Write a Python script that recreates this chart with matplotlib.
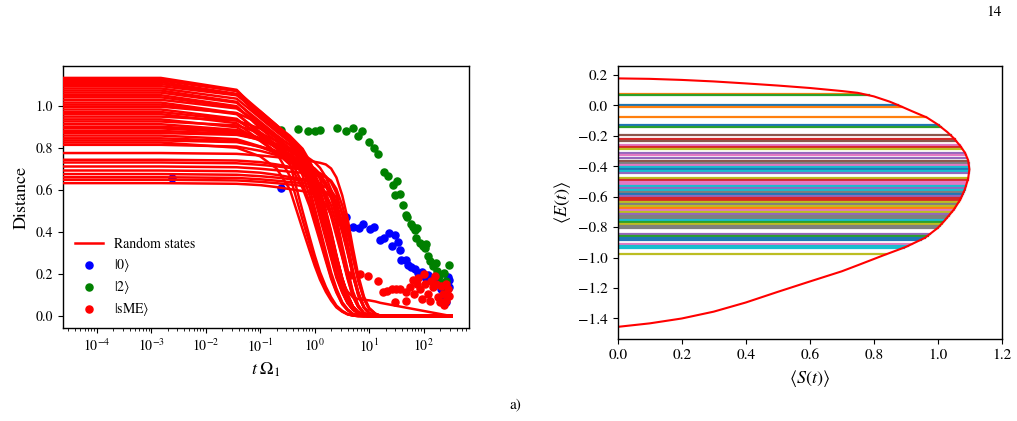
import matplotlib
matplotlib.use("Agg")
import matplotlib.pyplot as plt
from matplotlib.ticker import MultipleLocator
import numpy as np

plt.rcParams['font.family'] = 'STIXGeneral'
plt.rcParams['mathtext.fontset'] = 'stix'
plt.rcParams['axes.linewidth'] = 1.0

# ---- left panel: distance vs time ----
# shared time grid of the random-state curves (first point stands in for t = 0)
t_grid = [1e-6, 1.5e-3, 0.037, 0.1, 0.2, 0.35, 0.6, 0.8, 1.0, 1.25, 1.6, 2.0, 2.5,
          3.2, 4.0, 5.0, 6.3, 8.0, 10.0, 13.0, 16.0, 320.0]

# decay profiles (fraction of the plateau) at t = 0.037 ... 16
shapes = {
    'L1': [0.995, 0.985, 0.975, 0.965, 0.955, 0.948, 0.94, 0.93, 0.91, 0.87, 0.8, 0.66, 0.48, 0.3, 0.15, 0.06, 0.02, 0.003, 0.0],
    'L2': [0.995, 0.985, 0.975, 0.965, 0.958, 0.952, 0.946, 0.94, 0.93, 0.905, 0.85, 0.74, 0.6, 0.42, 0.25, 0.12, 0.05, 0.015, 0.003],
    'L3': [0.995, 0.985, 0.97, 0.955, 0.94, 0.93, 0.915, 0.89, 0.84, 0.76, 0.63, 0.45, 0.3, 0.16, 0.07, 0.02, 0.005, 0.0, 0.0],
    'U1': [0.95, 0.85, 0.79, 0.745, 0.68, 0.62, 0.55, 0.46, 0.36, 0.27, 0.18, 0.11, 0.06, 0.03, 0.012, 0.003, 0.0, 0.0, 0.0],
    'U2': [0.97, 0.92, 0.85, 0.73, 0.5, 0.38, 0.29, 0.21, 0.14, 0.09, 0.05, 0.025, 0.01, 0.003, 0.0, 0.0, 0.0, 0.0, 0.0],
    'U3': [0.98, 0.94, 0.9, 0.86, 0.81, 0.76, 0.7, 0.62, 0.52, 0.41, 0.3, 0.19, 0.11, 0.05, 0.02, 0.005, 0.0, 0.0, 0.0],
    'U4': [0.985, 0.95, 0.92, 0.89, 0.86, 0.83, 0.79, 0.74, 0.65, 0.56, 0.45, 0.33, 0.21, 0.11, 0.05, 0.015, 0.003, 0.0, 0.0],
    'U5': [0.99, 0.965, 0.94, 0.915, 0.885, 0.86, 0.84, 0.81, 0.76, 0.69, 0.6, 0.49, 0.37, 0.24, 0.13, 0.05, 0.015, 0.003, 0.0],
    'U6': [0.96, 0.89, 0.83, 0.77, 0.65, 0.56, 0.47, 0.38, 0.28, 0.19, 0.12, 0.06, 0.03, 0.01, 0.002, 0.0, 0.0, 0.0, 0.0],
    'U7': [0.955, 0.87, 0.81, 0.765, 0.71, 0.66, 0.61, 0.54, 0.45, 0.36, 0.26, 0.16, 0.09, 0.04, 0.015, 0.004, 0.0, 0.0, 0.0],
    'TAIL': [0.98, 0.94, 0.9, 0.85, 0.78, 0.72, 0.65, 0.56, 0.46, 0.36, 0.26, 0.18, 0.13, 0.1, 0.09, 0.086, 0.083, 0.077, 0.07],
}

plateau = [0.632, 0.648, 0.66, 0.675, 0.692, 0.711, 0.73, 0.743, 0.775,
           0.814, 0.825, 0.835, 0.845, 0.858, 0.87, 0.88, 0.892, 0.9, 0.912,
           0.925, 0.935, 0.948, 0.96, 0.97, 0.982, 0.995, 1.005, 1.015, 1.028,
           1.04, 1.05, 1.062, 1.072, 1.082, 1.093, 1.103, 1.112, 1.12, 1.127, 1.132]
shape_of = ['L3', 'L1', 'L2', 'L1', 'L3', 'L2', 'L1', 'L3', 'L2',
            'U5', 'U2', 'U5', 'U4', 'U3', 'U5', 'U4', 'U3', 'TAIL', 'U2',
            'U3', 'U6', 'U3', 'U7', 'U6', 'U7', 'U2', 'U7', 'U1', 'U6',
            'U7', 'U1', 'U7', 'U1', 'U7', 'U6', 'U7', 'U1', 'U7', 'U1', 'U1']

# measured states, log10(t Omega_1) and distance
s0_logt = [-2.61, -0.61, 0.58, 0.70, 0.81, 0.88, 1.01, 1.08,
           1.19, 1.27, 1.36, 1.42, 1.47, 1.52, 1.57, 1.59, 1.67, 1.71, 1.77, 1.84,
           1.90, 1.96, 2.02, 2.08, 2.14, 2.20, 2.26, 2.32, 2.37, 2.41, 2.44, 2.46, 2.47]
s0_d = [0.655, 0.608, 0.473, 0.425, 0.418, 0.44, 0.412, 0.425,
        0.36, 0.37, 0.395, 0.332, 0.385, 0.354, 0.314, 0.267, 0.267, 0.243, 0.235, 0.222,
        0.206, 0.211, 0.187, 0.195, 0.174, 0.159, 0.179, 0.129, 0.073, 0.065, 0.187, 0.171, 0.14]

s2_logt = [-0.61, -0.30, -0.13, 0.0, 0.09, 0.40, 0.58, 0.70, 0.79, 0.87,
           0.99, 1.09, 1.17, 1.28, 1.35, 1.43, 1.51, 1.47, 1.56, 1.62, 1.67, 1.70, 1.76,
           1.80, 1.84, 1.87, 1.86, 1.93, 1.98, 2.02, 2.05, 2.08, 2.12, 2.17, 2.22, 2.24,
           2.28, 2.32, 2.37, 2.41, 2.43, 2.46]
s2_d = [0.886, 0.89, 0.881, 0.881, 0.883, 0.894, 0.878, 0.894, 0.854, 0.878,
        0.826, 0.80, 0.77, 0.683, 0.664, 0.624, 0.64, 0.576, 0.581, 0.529, 0.481, 0.47, 0.44,
        0.422, 0.411, 0.419, 0.373, 0.346, 0.333, 0.325, 0.341, 0.286, 0.263, 0.238, 0.254, 0.214,
        0.19, 0.159, 0.206, 0.167, 0.127, 0.241]

sme_logt = [0.65, 0.825, 0.98, 1.17, 1.25, 1.33, 1.41, 1.50, 1.47,
            1.56, 1.67, 1.67, 1.74, 1.80, 1.88, 1.83, 1.93, 2.0, 2.03, 2.07, 2.14, 2.17,
            2.23, 2.26, 2.32, 2.35, 2.40, 2.41, 2.46, 2.29, 2.11, 1.96, 2.38, 2.44, 1.89, 2.2]
sme_d = [0.195, 0.2, 0.19, 0.166, 0.113, 0.121, 0.129, 0.129, 0.067,
         0.129, 0.113, 0.073, 0.137, 0.171, 0.152, 0.105, 0.129, 0.2, 0.152, 0.105, 0.166, 0.137,
         0.152, 0.089, 0.144, 0.105, 0.152, 0.073, 0.097, 0.065, 0.073, 0.08, 0.052, 0.13, 0.18, 0.19]

# ---- right panel: energy vs entropy ----
bound_S = [0.0, 0.1, 0.2, 0.3, 0.4, 0.5, 0.6, 0.7, 0.75, 0.8, 0.85, 0.882, 0.92, 0.966,
           1.0, 1.03, 1.05, 1.07, 1.085, 1.095, 1.099, 1.095, 1.085, 1.07, 1.05, 1.02,
           1.0, 0.96, 0.9, 0.83, 0.75, 0.7, 0.6, 0.5, 0.4, 0.3, 0.2, 0.1, 0.0]
bound_E = [0.178, 0.175, 0.168, 0.158, 0.145, 0.131, 0.115, 0.095, 0.083, 0.06, 0.025, -0.003,
           -0.038, -0.079, -0.125, -0.175, -0.215, -0.265, -0.31, -0.36, -0.42, -0.48, -0.55,
           -0.62, -0.685, -0.76, -0.805, -0.87, -0.93, -0.985, -1.05, -1.09, -1.157, -1.225,
           -1.295, -1.355, -1.40, -1.432, -1.455]

traj_E = [0.078, 0.067, 0.0015, -0.01, -0.077, -0.13, -0.142, -0.195, -0.221, -0.234, -0.26,
          -0.272, -0.287, -0.313, -0.326, -0.348, -0.365, -0.378, -0.391, -0.404, -0.417,
          -0.43, -0.443, -0.474, -0.49, -0.503, -0.516, -0.529, -0.542, -0.555, -0.568,
          -0.581, -0.594, -0.607, -0.621, -0.634, -0.647, -0.66, -0.673, -0.686, -0.699,
          -0.712, -0.725, -0.738, -0.752, -0.765, -0.778, -0.791, -0.804, -0.843, -0.856,
          -0.869, -0.883, -0.909, -0.922, -0.935, -0.979]
traj_c = ['C1', 'C2', 'C0', 'C1', 'C1', 'C0', 'C2', 'C5', 'C3', 'C5', 'C6',
          'C3', 'C8', 'C4', 'C6', 'C4', 'C5', 'C7', 'C6', 'C9', 'C0',
          'C9', 'C4', 'C8', 'C3', 'C6', 'C6', 'C9', 'C4', 'C9', 'C7',
          'C0', 'C4', 'C3', 'C3', 'C8', 'C7', 'C8', 'C1', 'C6', 'C8',
          'C4', 'C7', 'C7', 'C9', 'C2', 'C8', 'C7', 'C7', 'C4', 'C2',
          'C0', 'C0', 'C6', 'C9', 'C9', 'C8']

fig = plt.figure(figsize=(10.17, 4.21), dpi=100)

ax1 = fig.add_axes([0.0619, 0.2209, 0.3992, 0.6223])
ax1.scatter(10.0 ** np.array(s0_logt), s0_d, s=26, color='blue', label=r'$|0\rangle$', zorder=2)
ax1.scatter(10.0 ** np.array(s2_logt), s2_d, s=26, color='green', label=r'$|2\rangle$', zorder=2)
ax1.scatter(10.0 ** np.array(sme_logt), sme_d, s=26, color='red', label=r'$|\mathrm{sME}\rangle$', zorder=2)
for i, (p, name) in enumerate(zip(plateau, shape_of)):
    d = [p, p] + [p * f for f in shapes[name]] + [0.0]
    ax1.plot(t_grid, d, color='red', lw=1.8, zorder=3,
             label='Random states' if i == 0 else None)
ax1.set_xscale('log')
ax1.set_xticks([1e-4, 1e-3, 1e-2, 1e-1, 1e0, 1e1, 1e2])
ax1.set_xlim(10 ** -4.62, 10 ** 2.83)
ax1.set_xlabel(r'$t\;\Omega_1$', fontsize=13)
ax1.set_ylabel('Distance', fontsize=13)
ax1.tick_params(labelsize=10)
h, l = ax1.get_legend_handles_labels()
order = [l.index('Random states'), 0, 1, 2]
ax1.legend([h[k] for k in order], [l[k] for k in order], loc='lower left',
           bbox_to_anchor=(0.0, -0.01), frameon=False, fontsize=10, labelspacing=0.38)

ax2 = fig.add_axes([0.6074, 0.1941, 0.3776, 0.6492])
E_up = np.array(bound_E)[::-1]
S_up = np.array(bound_S)[::-1]
for e, c in zip(traj_E, traj_c):
    s_end = np.interp(e, E_up, S_up)
    ax2.plot([0.0, s_end], [e, e], color=c, lw=1.6)
ax2.plot(bound_S, bound_E, color='red', lw=1.5)
ax2.set_xlim(0, 1.2)
ax2.yaxis.set_major_locator(MultipleLocator(0.2))
ax2.set_xlabel(r'$\langle S(t)\rangle$', fontsize=13)
ax2.set_ylabel(r'$\langle E(t)\rangle$', fontsize=13)
ax2.tick_params(labelsize=11)

fig.text(0.985, 0.97, '14', ha='right', va='center', fontsize=11)
fig.text(0.507, 0.04, 'a)', ha='center', va='center', fontsize=11)

fig.savefig('out.png', dpi=100)
